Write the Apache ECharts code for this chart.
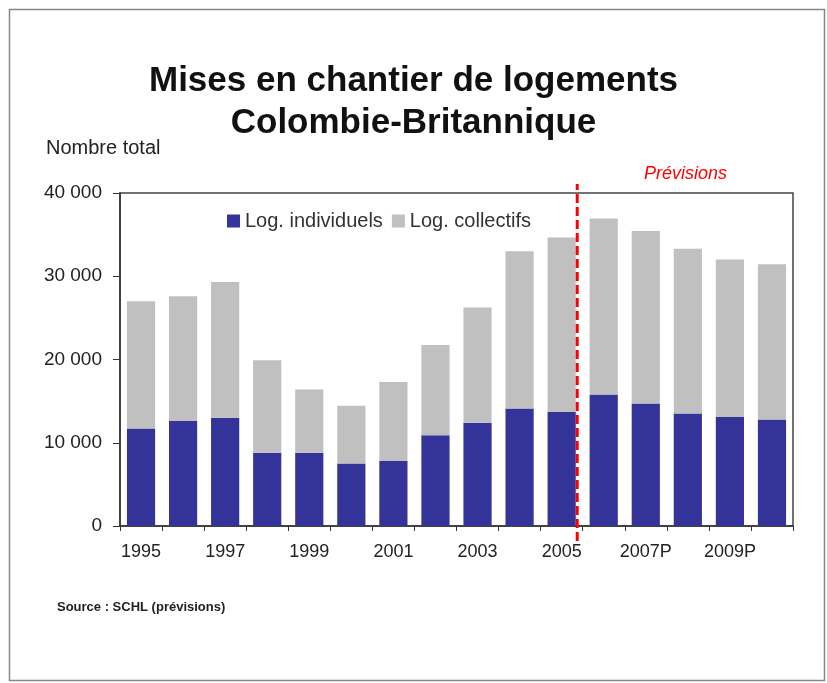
<!DOCTYPE html>
<html>
<head>
<meta charset="utf-8">
<script src="https://cdn.jsdelivr.net/npm/echarts@6/dist/echarts.min.js"></script>
<style>
  html, body { margin: 0; padding: 0; background: #fff; }
  #main { width: 827px; height: 683px; }
</style>
</head>
<body>
<div id="main"></div>
<script>
// annees (P = previsions)
var years = ['1995', '1996', '1997', '1998', '1999', '2000', '2001', '2002', '2003', '2004',
             '2005', '2006P', '2007P', '2008P', '2009P', '2010P'];
// logements individuels
var individuels = [11700, 12600, 13000, 8800, 8800, 7500, 7800, 10900, 12400, 14100,
                   13700, 15800, 14700, 13500, 13100, 12800];
// logements collectifs
var collectifs = [15300, 15000, 16300, 11100, 7600, 6950, 9500, 10850, 13850, 18900,
                  20950, 21150, 20750, 19800, 18900, 18650];
var yTicks = [0, 10000, 20000, 30000, 40000];
var forecastStart = 10.87; // frontière 2005 / 2006

var chart = echarts.init(document.getElementById('main'));
var font = '"Liberation Sans", Arial, sans-serif';

var option = {
  backgroundColor: '#fff',
  animation: false,
  textStyle: { fontFamily: font },
  title: [
    {
      text: 'Mises en chantier de logements\nColombie-Britannique',
      left: 'center', top: 55,
      textStyle: { fontFamily: font, fontSize: 35, fontWeight: 'bold', color: '#111', lineHeight: 42 }
    },
    {
      text: 'Nombre total', left: 41, top: 133,
      textStyle: { fontFamily: font, fontSize: 20, fontWeight: 'normal', color: '#222' }
    },
    {
      text: 'Prévisions', left: 639, top: 160,
      textStyle: { fontFamily: font, fontSize: 18, fontStyle: 'italic', fontWeight: 'normal', color: '#ff0000' }
    },
    {
      text: 'Source : SCHL (prévisions)', left: 52, top: 596,
      textStyle: { fontFamily: font, fontSize: 13, fontWeight: 'bold', color: '#222' }
    }
  ],
  legend: {
    data: ['Log. individuels', 'Log. collectifs'],
    left: 222, top: 206,
    itemWidth: 13, itemHeight: 13, itemGap: 9,
    icon: 'rect',
    textStyle: { fontFamily: font, fontSize: 20, color: '#333' }
  },
  grid: [
    { left: 120, right: 34, top: 193, bottom: 157, show: true, borderColor: '#444', borderWidth: 1.5 },
    // grille invisible pour la ligne des prévisions (dépasse un peu le cadre)
    { left: 120, right: 34, top: 184, bottom: 142, show: false }
  ],
  xAxis: [
    {
      type: 'category', gridIndex: 0,
      data: years,
      axisLine: { lineStyle: { color: '#333', width: 1.5 } },
      axisTick: { show: true, interval: 0, length: 5, alignWithLabel: false, lineStyle: { color: '#333' } },
      axisLabel: { interval: 1, margin: 17, fontSize: 18, color: '#222', fontFamily: font }
    },
    { type: 'value', gridIndex: 1, min: 0, max: years.length, show: false }
  ],
  yAxis: [
    {
      type: 'value', gridIndex: 0,
      min: yTicks[0], max: yTicks[yTicks.length - 1], interval: 10000,
      axisLine: { show: true, lineStyle: { color: '#333', width: 1.5 } },
      axisTick: { show: true, length: 7, inside: false, lineStyle: { color: '#333' } },
      splitLine: { show: false },
      axisLabel: {
        margin: 18, fontSize: 19, color: '#222', fontFamily: font,
        formatter: function (v) { return v === 0 ? '0' : String(v).replace(/\B(?=(\d{3})+(?!\d))/g, ' '); }
      }
    },
    { type: 'value', gridIndex: 1, min: 0, max: 1, show: false }
  ],
  series: [
    {
      name: 'Log. individuels', type: 'bar', stack: 'total',
      data: individuels, barCategoryGap: '33%',
      itemStyle: { color: '#333399' }
    },
    {
      name: 'Log. collectifs', type: 'bar', stack: 'total',
      data: collectifs, barCategoryGap: '33%',
      itemStyle: { color: '#c0c0c0' }
    },
    {
      name: 'prevision', type: 'line', xAxisIndex: 1, yAxisIndex: 1, z: 5,
      symbol: 'none', silent: true,
      data: [[forecastStart, 0], [forecastStart, 1]],
      lineStyle: { color: '#ff0000', type: [9, 4], width: 3 }
    }
  ],
  graphic: [
    {
      type: 'rect', left: 7, top: 7,
      shape: { width: 815, height: 671 },
      style: { fill: 'none', stroke: '#888', lineWidth: 1.5 }
    }
  ]
};
chart.setOption(option);
</script>
</body>
</html>
